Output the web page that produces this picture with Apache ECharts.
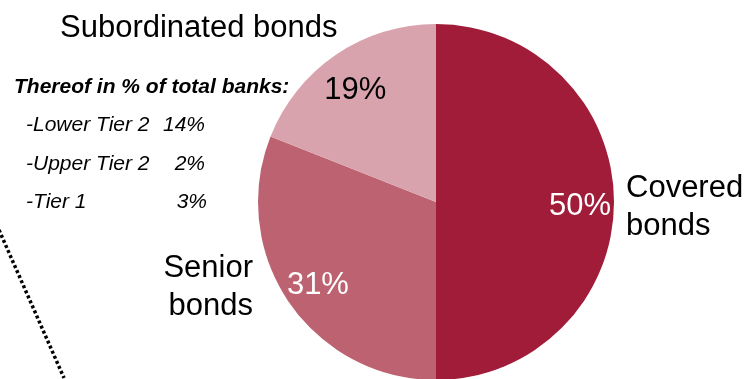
<!DOCTYPE html>
<html><head><meta charset="utf-8">
<script src="https://cdn.jsdelivr.net/npm/echarts@6/dist/echarts.min.js"></script>
<style>html,body{margin:0;padding:0;background:#fff}#c{width:746px;height:379px}</style>
</head><body><div id="c"></div>
<script>
const categories = ['Covered bonds', 'Senior bonds', 'Subordinated bonds'];
const shares = [50, 31, 19];
const sliceColors = ['#A01C38', '#BD6271', '#D9A3AE'];
const labelColors = ['#ffffff', '#ffffff', '#000000'];
const labelOffsets = [[52, 4], [-42, 32], [-29, -35]];
const noteTitle = 'Thereof in % of total banks:';
const noteItems = ['-Lower Tier 2', '-Upper Tier 2', '-Tier 1'];
const noteValues = ['14%', '2%', '3%'];
const noteValueRight = [205, 205, 207];

const FONT = '"Liberation Sans", Arial, sans-serif';
const BIG = '31px ' + FONT;
const chart = echarts.init(document.getElementById('c'));

function txt(x, y, s, font, align) {
  return {type:'text', x:x, y:y, style:{text:s, font:font, fill:'#000', align:align || 'left', verticalAlign:'middle'}};
}
const graphics = [
  txt(60, 28.5, 'Subordinated bonds', BIG),
  txt(14, 87, noteTitle, 'italic bold 21px ' + FONT),
  txt(253, 268.5, 'Senior', BIG, 'right'),
  txt(253, 306.5, 'bonds', BIG, 'right'),
  txt(626, 188.5, 'Covered', BIG),
  txt(626, 226.5, 'bonds', BIG),
  {type:'line', shape:{x1:-1, y1:230, x2:64, y2:378}, style:{stroke:'#000', lineWidth:3.5, lineDash:[3,2.5]}}
];
const rowY = [125.5, 164, 202];
noteItems.forEach((t, i) => {
  graphics.push(txt(26, rowY[i], t, 'italic 21px ' + FONT));
  graphics.push(txt(noteValueRight[i], rowY[i], noteValues[i], 'italic 21px ' + FONT, 'right'));
});

chart.setOption({
  animation: false,
  backgroundColor: '#fff',
  graphic: graphics,
  series: [{
    type: 'pie',
    center: [436, 202],
    radius: 178,
    startAngle: 90,
    clockwise: true,
    silent: true,
    itemStyle: {borderWidth: 0},
    labelLine: {show: false},
    data: categories.map((n, i) => ({
      name: n,
      value: shares[i],
      itemStyle: {color: sliceColors[i]},
      label: {
        show: true,
        position: 'inside',
        formatter: '{d}%',
        color: labelColors[i],
        fontSize: 31,
        fontFamily: FONT,
        offset: labelOffsets[i]
      }
    }))
  }]
});
</script></body></html>
